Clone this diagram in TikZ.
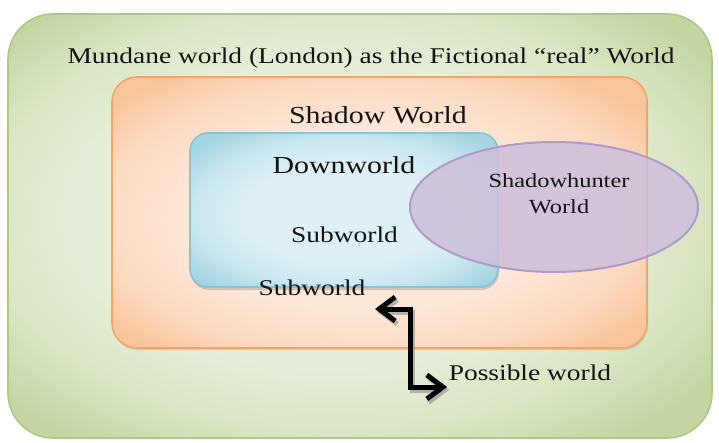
\documentclass[tikz,border=0pt]{standalone}
\usepackage{fontspec}
\setmainfont{Liberation Serif}
\usetikzlibrary{shadows,arrows.meta,shapes.geometric}
\definecolor{grnIn}{HTML}{E6EED8}
\definecolor{grnMid}{HTML}{DAE6C5}
\definecolor{grnOut}{HTML}{C4D7A3}
\definecolor{grnLine}{HTML}{AEC887}
\definecolor{orIn}{HTML}{FDE7D8}
\definecolor{orMid}{HTML}{FCDAC1}
\definecolor{orOut}{HTML}{F9C59B}
\definecolor{orLine}{HTML}{F2A46A}
\definecolor{blIn}{HTML}{DEF0F5}
\definecolor{blMid}{HTML}{CAE7F0}
\definecolor{blOut}{HTML}{A5D5E2}
\definecolor{blLine}{HTML}{86C4D6}
\definecolor{puFill}{HTML}{CFC0DB}
\definecolor{puLine}{HTML}{AE9BC8}
\definecolor{txt}{HTML}{141414}
\pgfdeclareradialshading{grnshade}{\pgfpoint{-3bp}{2bp}}{color(0bp)=(grnIn); color(18bp)=(grnIn); color(25bp)=(grnMid); color(32bp)=(grnOut); color(50bp)=(grnOut)}
\pgfdeclareradialshading{orshade}{\pgfpoint{-2bp}{-2bp}}{color(0bp)=(orIn); color(17bp)=(orIn); color(25bp)=(orMid); color(32bp)=(orOut); color(50bp)=(orOut)}
\pgfdeclareradialshading{blshade}{\pgfpoint{0bp}{-2bp}}{color(0bp)=(blIn); color(16bp)=(blIn); color(24bp)=(blMid); color(32bp)=(blOut); color(50bp)=(blOut)}
\begin{document}
\begin{tikzpicture}[x=1pt,y=-1pt,
  lbl/.style={text=txt, xscale=1.22, inner sep=0pt, anchor=base},
  big/.style={lbl, font=\fontsize{24.5}{28}\selectfont},
  mid/.style={lbl, font=\fontsize{22.5}{26}\selectfont},
  sml/.style={lbl, font=\fontsize{20}{26}\selectfont},
  region/.style={rounded corners=#1, line width=1.6pt},
  arrowline/.style={line width=5pt, {Straight Barb[length=16pt,width=24pt]}-{Straight Barb[length=16pt,width=24pt]}},
]
\useasboundingbox (0,0) rectangle (719,443);
% outer green world
\node[region=45pt, draw=grnLine, shading=grnshade,
  minimum width=704pt, minimum height=424pt] (mundane) at (360,226) {};
\node[mid] (title) at (371,64) {Mundane world (London) as the Fictional “real” World};
% orange shadow world
\node[region=25pt, draw=orLine, shading=orshade,
  drop shadow={shadow xshift=1pt, shadow yshift=-2pt, opacity=.25},
  minimum width=535pt, minimum height=271pt] (shadow) at (379.5,212.5) {};
\node[big] (shadowlbl) at (378,124) {Shadow World};
% blue downworld
\node[region=18pt, draw=blLine, shading=blshade,
  drop shadow={shadow xshift=1pt, shadow yshift=-3pt, opacity=.35},
  minimum width=308pt, minimum height=154pt] (down) at (344,210) {};
\node[big] (downlbl) at (344,174) {Downworld};
\node[mid] (sub1) at (344.5,243) {Subworld};
% purple ellipse
\node[ellipse, draw=puLine, line width=2pt, fill=puFill, fill opacity=.88,
  minimum width=288pt, minimum height=130pt] (hunter) at (554,207) {};
\node[sml, anchor=center, align=center] (hunterlbl) at (559,194) {Shadowhunter\\World};
% outer subworld and possible world
\node[mid] (sub2) at (312,295) {Subworld};
\node[mid] (poss) at (530,380) {Possible world};
% connector
\coordinate (ar1) at (375,309);
\coordinate (elb) at (410,348);
\coordinate (ar2) at (447,387);
\draw[arrowline, draw=black!45, opacity=.6, transform canvas={shift={(2pt,-3pt)}}] (ar1) -| (elb) |- (ar2);
\draw[arrowline, draw=black] (ar1) -| (elb) |- (ar2);
\end{tikzpicture}
\end{document}
